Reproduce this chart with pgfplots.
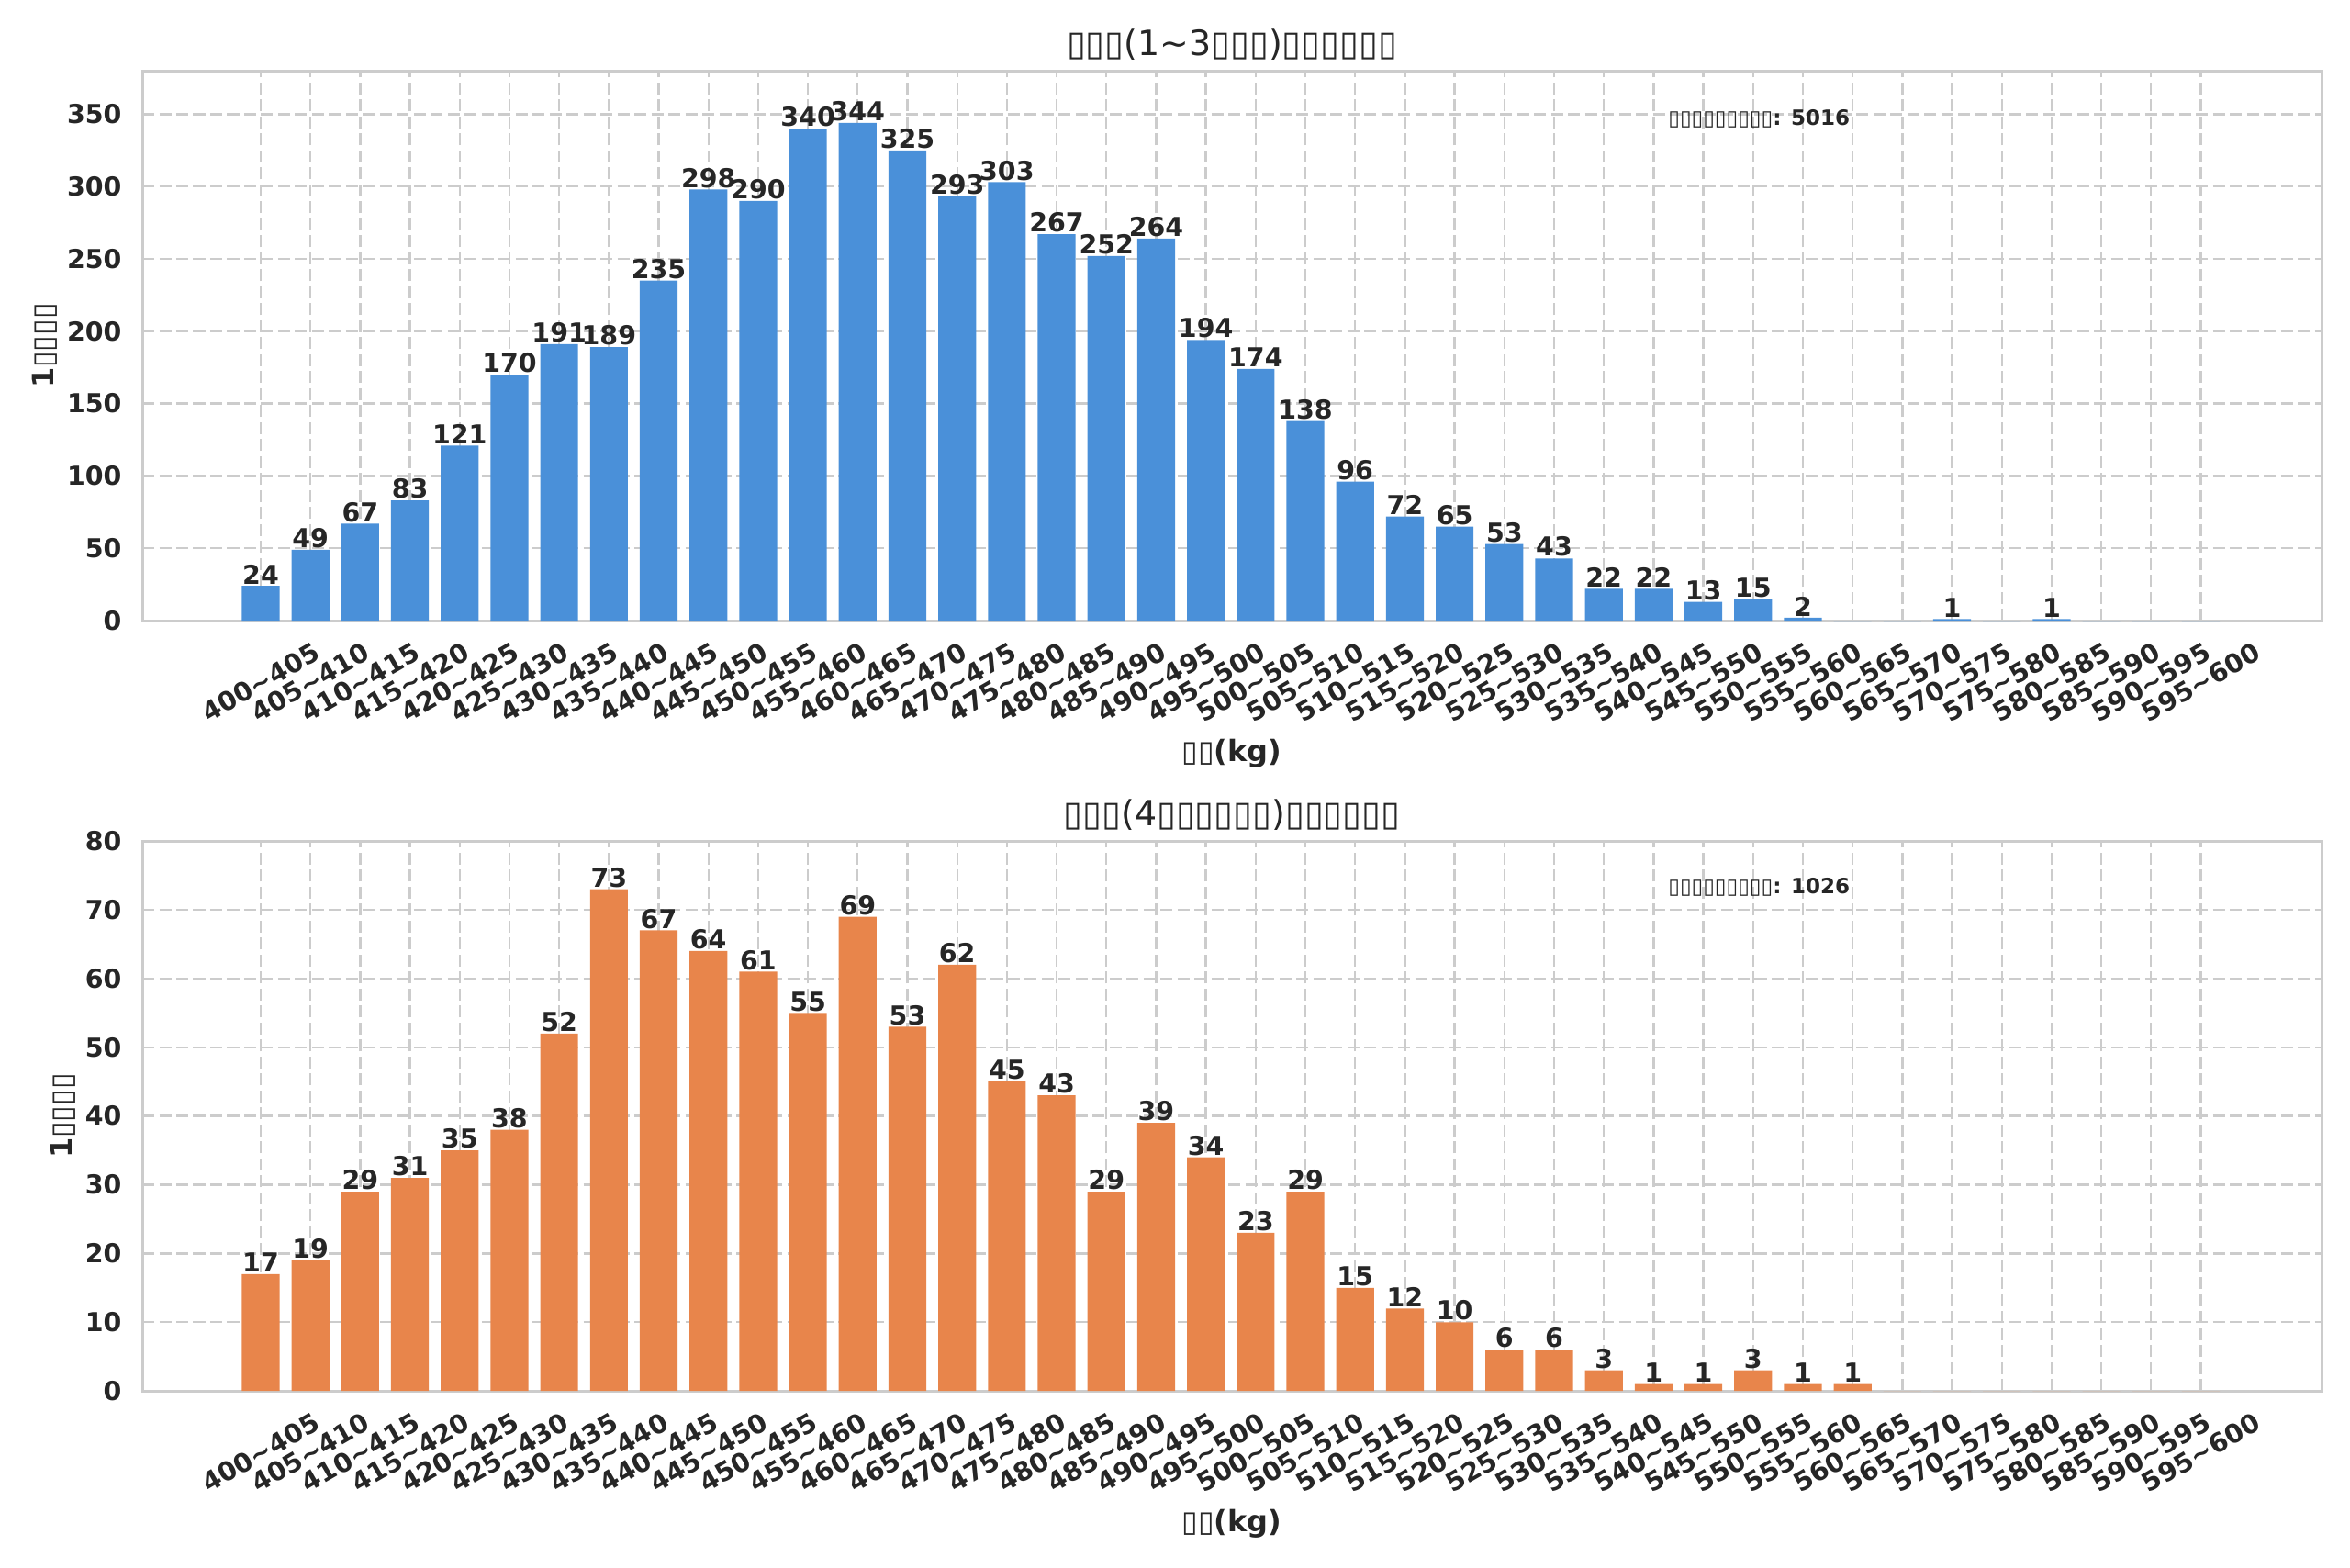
\documentclass[border=0pt]{standalone}
\usepackage{fontspec}
\setmainfont{DejaVu Sans}
\usepackage{pgfplots}
\pgfplotsset{compat=1.18}
\definecolor{barblue}{HTML}{4A90D9}
\definecolor{barorange}{HTML}{E8854B}
\definecolor{txt}{HTML}{262626}
\definecolor{gridc}{HTML}{CCCCCC}
\newcommand\T{\textasciitilde}
\newcommand\tf{{\mdseries ▯}}
\pgfplotsset{
 mystyle/.style={
  scale only axis, width=1001.6pt, height=252.7pt,
  xmin=-2.38, xmax=41.43, ymin=0,
  xtick={0,...,39},
  xticklabels={400\T405,405\T410,410\T415,415\T420,420\T425,425\T430,430\T435,435\T440,440\T445,445\T450,450\T455,455\T460,460\T465,465\T470,470\T475,475\T480,480\T485,485\T490,490\T495,495\T500,500\T505,505\T510,510\T515,515\T520,520\T525,525\T530,530\T535,535\T540,540\T545,545\T550,550\T555,555\T560,560\T565,565\T570,570\T575,575\T580,580\T585,585\T590,590\T595,595\T600},
  axis line style={gridc, line width=1.25pt},
  major tick length=0pt,
  grid=major,
  grid style={gridc, line width=1pt, dash pattern=on 5.5pt off 2.3pt},
  /pgf/number format/assume math mode=true,
  ticklabel style={font=\bfseries\fontsize{12}{14}\selectfont, text=txt},
  xticklabel style={rotate=30, anchor=center, inner sep=0pt, xshift=-14.15pt, yshift=-24.5pt},
  yticklabel style={anchor=east, inner sep=0pt, xshift=-9.3pt},
  every axis x label/.style={at={(axis description cs:0.5,-0.242)}, anchor=center, font=\bfseries\fontsize{13.5}{15}\selectfont, text=txt},
  every axis title/.style={at={(axis description cs:0.5,1.047)}, anchor=center, font=\fontsize{16}{18}\selectfont, text=txt},
  ybar, bar width=0.76, bar shift=0pt,
  nodes near coords={\pgfmathfloatifflags{\pgfplotspointmeta}{0}{}{\pgfmathprintnumber{\pgfplotspointmeta}}},
  every node near coord/.append style={font=\bfseries\fontsize{12}{14}\selectfont, text=txt, anchor=south, inner sep=0.6pt},
  xlabel={\tf\tf(kg)},
  ylabel={1\tf\tf\tf\tf},
 }
}
\begin{document}
\begin{tikzpicture}
\useasboundingbox (0,0) rectangle (1080pt,720.2pt);
\begin{axis}[mystyle, at={(65.4pt,434.98pt)}, anchor=south west,
  ymax=380, ytick={0,50,...,350},
  every axis y label/.style={at={(axis description cs:-0.0446,0.5)}, rotate=90, anchor=center, font=\bfseries\fontsize{13.5}{15}\selectfont, text=txt},
  title={\tf\tf\tf(1\T3\tf\tf\tf)\tf\tf\tf\tf\tf\tf}]
\addplot[fill=barblue, draw=none] coordinates {
(0,24) (1,49) (2,67) (3,83) (4,121) (5,170) (6,191) (7,189) (8,235) (9,298)
(10,290) (11,340) (12,344) (13,325) (14,293) (15,303) (16,267) (17,252) (18,264) (19,194)
(20,174) (21,138) (22,96) (23,72) (24,65) (25,53) (26,43) (27,22) (28,22) (29,13)
(30,15) (31,2) (32,0) (33,0) (34,1) (35,0) (36,1) (37,0) (38,0) (39,0)};
\node[anchor=west, inner sep=0pt, font=\bfseries\fontsize{9.7}{12}\selectfont, text=txt] at (rel axis cs:0.7,0.913) {\tf\tf\tf\tf\tf\tf\tf\tf\tf: 5016};
\end{axis}
\begin{axis}[mystyle, at={(65.4pt,81.0pt)}, anchor=south west,
  ymax=80, ytick={0,10,...,80},
  every axis y label/.style={at={(axis description cs:-0.0362,0.5)}, rotate=90, anchor=center, font=\bfseries\fontsize{13.5}{15}\selectfont, text=txt},
  title={\tf\tf\tf(4\tf\tf\tf\tf\tf\tf)\tf\tf\tf\tf\tf\tf}]
\addplot[fill=barorange, draw=none] coordinates {
(0,17) (1,19) (2,29) (3,31) (4,35) (5,38) (6,52) (7,73) (8,67) (9,64)
(10,61) (11,55) (12,69) (13,53) (14,62) (15,45) (16,43) (17,29) (18,39) (19,34)
(20,23) (21,29) (22,15) (23,12) (24,10) (25,6) (26,6) (27,3) (28,1) (29,1)
(30,3) (31,1) (32,1) (33,0) (34,0) (35,0) (36,0) (37,0) (38,0) (39,0)};
\node[anchor=west, inner sep=0pt, font=\bfseries\fontsize{9.7}{12}\selectfont, text=txt] at (rel axis cs:0.7,0.916) {\tf\tf\tf\tf\tf\tf\tf\tf\tf: 1026};
\end{axis}
\end{tikzpicture}
\end{document}
